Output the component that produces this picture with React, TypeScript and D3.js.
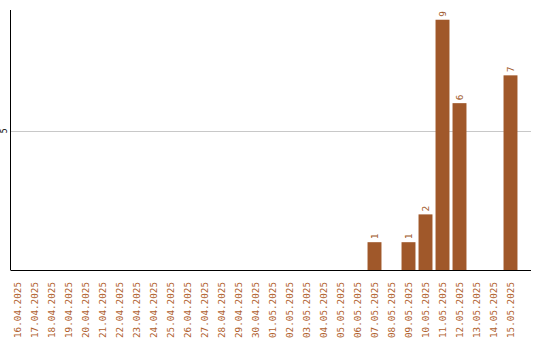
import React from "react";
import * as d3 from "d3";

const dates = [
  "16.04.2025", "17.04.2025", "18.04.2025", "19.04.2025", "20.04.2025",
  "21.04.2025", "22.04.2025", "23.04.2025", "24.04.2025", "25.04.2025",
  "26.04.2025", "27.04.2025", "28.04.2025", "29.04.2025", "30.04.2025",
  "01.05.2025", "02.05.2025", "03.05.2025", "04.05.2025", "05.05.2025",
  "06.05.2025", "07.05.2025", "08.05.2025", "09.05.2025", "10.05.2025",
  "11.05.2025", "12.05.2025", "13.05.2025", "14.05.2025", "15.05.2025",
];
const counts = [
  0, 0, 0, 0, 0, 0, 0, 0, 0, 0,
  0, 0, 0, 0, 0, 0, 0, 0, 0, 0,
  0, 1, 0, 1, 2, 9, 6, 0, 0, 7,
];
const yTicks = [5];

const W = 540;
const H = 340;
const BAR = "#a0582a";
const LABEL = "#b0602c";
const FONT = "'DejaVu Sans Mono', monospace";

export default function App() {
  const x = d3.scaleBand<string>().domain(dates).range([9, 519]).paddingInner(0.18).paddingOuter(0.09);
  const y = d3.scaleLinear().domain([0, 9.35]).range([270, 10]);
  const axisLeft = 10.5;
  const axisRight = 531;

  return (
    <svg width={W} height={H} style={{ position: "absolute", left: 0, top: 0 }}>
      <rect width={W} height={H} fill="#fff" />
      {yTicks.map((t) => (
        <g key={t}>
          <line x1={axisLeft} x2={axisRight} y1={Math.round(y(t)) + 0.5} y2={Math.round(y(t)) + 0.5} stroke="#c8c8c8" strokeWidth={1} />
          <text
            transform={`translate(7,${y(t)}) rotate(-90)`}
            textAnchor="middle"
            fontFamily={FONT}
            fontSize={8}
            fill="#000"
          >
            {t}
          </text>
        </g>
      ))}
      {dates.map((d, i) =>
        counts[i] > 0 ? (
          <g key={d}>
            <rect
              x={x(d)}
              y={y(counts[i])}
              width={x.bandwidth()}
              height={y(0) - y(counts[i])}
              fill={BAR}
            />
            <text
              transform={`translate(${(x(d) as number) + x.bandwidth() / 2 + 3.5},${y(counts[i]) - 3}) rotate(-90)`}
              textAnchor="start"
              fontFamily={FONT}
              fontSize={9.5}
              fill={BAR}
            >
              {counts[i]}
            </text>
          </g>
        ) : null
      )}
      <line x1={axisLeft} x2={axisLeft} y1={10} y2={270} stroke="#000" strokeWidth={1} />
      <line x1={axisLeft} x2={axisRight} y1={270.5} y2={270.5} stroke="#000" strokeWidth={1} />
      {dates.map((d) => (
        <text
          key={d}
          transform={`translate(${(x(d) as number) + x.bandwidth() / 2 + 3.5},282) rotate(-90)`}
          textAnchor="end"
          fontFamily={FONT}
          fontSize={9.3}
          fill={LABEL}
        >
          {d}
        </text>
      ))}
    </svg>
  );
}
